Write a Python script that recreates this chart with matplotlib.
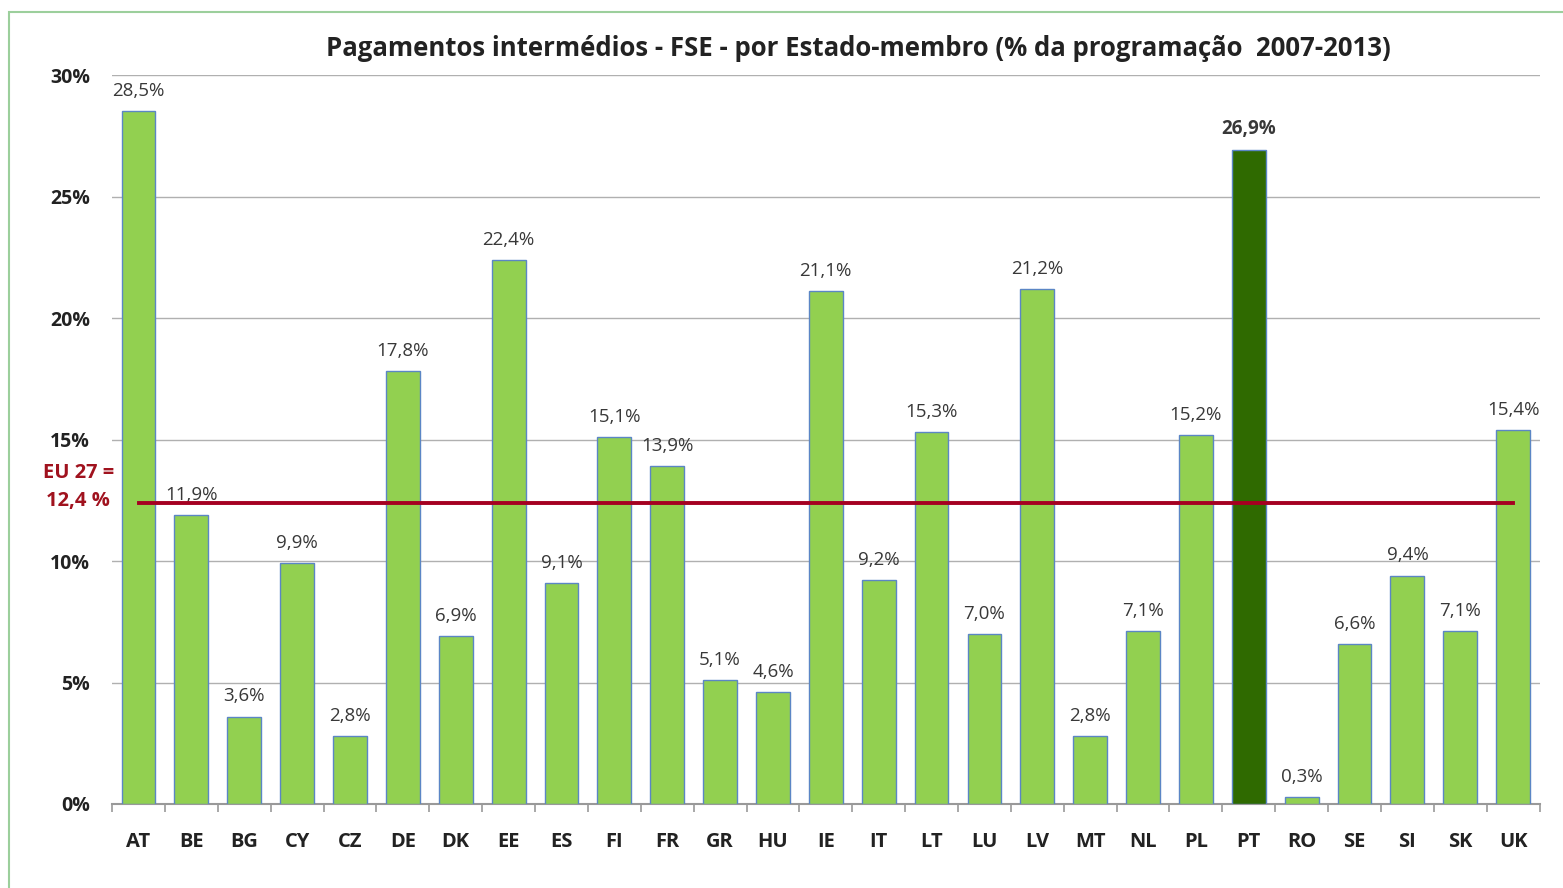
import matplotlib.pyplot as plt
import numpy as np
from matplotlib.patches import Rectangle

plt.rcParams['font.family'] = ['Open Sans', 'DejaVu Sans']

countries = ["AT", "BE", "BG", "CY", "CZ", "DE", "DK", "EE", "ES", "FI", "FR", "GR", "HU", "IE",
             "IT", "LT", "LU", "LV", "MT", "NL", "PL", "PT", "RO", "SE", "SI", "SK", "UK"]
payments = [28.5, 11.9, 3.6, 9.9, 2.8, 17.8, 6.9, 22.4, 9.1, 15.1, 13.9, 5.1, 4.6, 21.1,
            9.2, 15.3, 7.0, 21.2, 2.8, 7.1, 15.2, 26.9, 0.3, 6.6, 9.4, 7.1, 15.4]
highlight = "PT"
eu_avg = 12.4
yticks = [0, 5, 10, 15, 20, 25, 30]

fig = plt.figure(figsize=(15.63, 8.88), dpi=100)
ax = fig.add_axes([0.0717, 0.0946, 0.9133, 0.8209])

# light green frame around the chart
fig.patches.append(Rectangle((0.006, -0.01), 1.2, 0.996, transform=fig.transFigure,
                             fill=False, edgecolor="#9ccf9c", linewidth=1.5))

x = np.arange(len(countries))
colors = ["#2f6a00" if c == highlight else "#92d050" for c in countries]
ax.bar(x, payments, width=0.64, color=colors, edgecolor="#5b86c5", linewidth=1.0, zorder=3)

for xi, c, v in zip(x, countries, payments):
    lbl = f"{v:.1f}%".replace(".", ",")
    ax.annotate(lbl, (xi, v), xytext=(0, 8), textcoords="offset points",
                ha="center", va="bottom", fontsize=13.5, color="#383838",
                fontweight="bold" if c == highlight else "normal")

# EU average line
ax.plot([0, len(countries) - 1], [eu_avg, eu_avg], color="#a50021", linewidth=2.8, zorder=4)
ax.text(-1.14, 13.05, "EU 27 =\n12,4 %", ha="center", va="center", fontsize=14.5,
        fontweight="bold", color="#a0121e", linespacing=1.55, clip_on=False)

ax.set_xlim(-0.5, len(countries) - 0.5)
ax.set_ylim(0, 30)
ax.set_yticks(yticks)
ax.set_yticklabels([f"{t}%" for t in yticks], fontsize=14, fontweight="bold", color="#222222")
ax.tick_params(axis="y", length=0, pad=16)
ax.yaxis.grid(True, color="#b0b0b0", linewidth=1.0, zorder=0)
ax.set_axisbelow(True)

ax.set_xticks(x)
ax.set_xticklabels(countries, fontsize=14.5, fontweight="bold", color="#222222")
ax.tick_params(axis="x", length=0, pad=20)
ax.set_xticks(np.arange(-0.5, len(countries)), minor=True)
ax.tick_params(axis="x", which="minor", length=6, color="#999999", width=1.2)

for s in ["top", "right", "left"]:
    ax.spines[s].set_visible(False)
ax.spines["bottom"].set_color("#999999")
ax.spines["bottom"].set_linewidth(1.5)

fig.text(0.549, 0.945, "Pagamentos intermédios - FSE - por Estado-membro (% da programação  2007-2013)",
         ha="center", va="center", fontsize=18.5, fontweight="bold", color="#222222")

fig.savefig("out.png", dpi=100)
